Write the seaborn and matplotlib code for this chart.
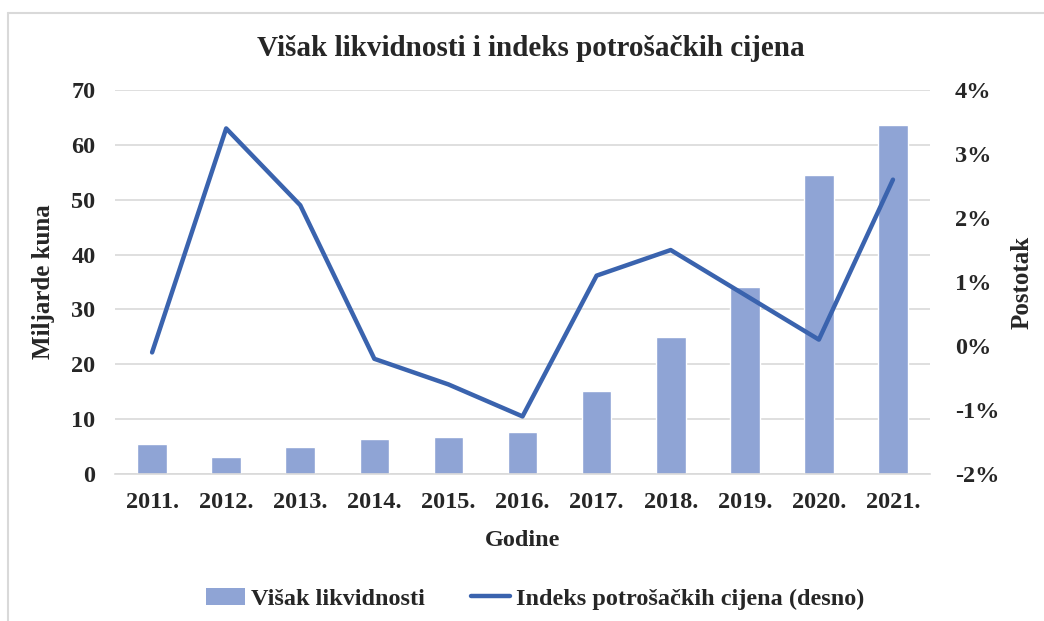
import matplotlib
matplotlib.use("Agg")
import matplotlib.pyplot as plt
import matplotlib.ticker as mticker
from matplotlib.lines import Line2D
from matplotlib.patches import Patch
import numpy as np
import pandas as pd
import seaborn as sns

years = ["2011.", "2012.", "2013.", "2014.", "2015.", "2016.", "2017.", "2018.", "2019.", "2020.", "2021."]
liquidity = [5.4, 3.1, 5.0, 6.4, 6.7, 7.6, 15.1, 24.9, 34.1, 54.6, 63.6]   # milijarde kuna
cpi = [-0.1, 3.4, 2.2, -0.2, -0.6, -1.1, 1.1, 1.5, 0.8, 0.1, 2.6]           # postotak

bar_color = "#8FA4D5"
line_color = "#3A63AE"
grid_color = "#D9D9D9"

sns.set_theme(style="white")
plt.rcParams["font.family"] = ["Liberation Serif", "DejaVu Serif"]
plt.rcParams["font.weight"] = "bold"

df = pd.DataFrame({"Godina": years, "Visak": liquidity, "CPI": cpi})

fig = plt.figure(figsize=(10.44, 6.21), dpi=100)
ax = fig.add_axes([0.1102, 0.2367, 0.7806, 0.6183])

sns.barplot(data=df, x="Godina", y="Visak", color=bar_color, width=0.4,
            saturation=1, ax=ax, zorder=2)
ax.set_ylim(0, 70)
ax.set_xlim(-0.5, len(years) - 0.5)
ax.yaxis.set_major_locator(mticker.MultipleLocator(10))
ax.yaxis.grid(True, color=grid_color, linewidth=1.2, zorder=0)
ax.set_axisbelow(True)
for s in ["left", "right", "top"]:
    ax.spines[s].set_visible(False)
ax.spines["bottom"].set_color(grid_color)
ax.spines["bottom"].set_linewidth(1.2)
ax.tick_params(axis="x", length=0, labelsize=17.5, pad=13)
ax.tick_params(axis="y", length=0, labelsize=17.5, pad=14)
for lbl in ax.get_xticklabels() + ax.get_yticklabels():
    lbl.set_fontweight("bold")
ax.set_xlabel("Godine", fontsize=17.5, fontweight="bold", labelpad=12)
ax.set_ylabel("Miljarde kuna", fontsize=18, fontweight="bold", labelpad=12)

ax2 = ax.twinx()
sns.lineplot(x=np.arange(len(years)), y=cpi, color=line_color, linewidth=3.2, ax=ax2)
ax2.set_ylim(-2, 4)
ax2.yaxis.set_major_locator(mticker.MultipleLocator(1))
ax2.yaxis.set_major_formatter(mticker.FuncFormatter(lambda v, p: f"{v:.0f}%"))
for s in ["left", "right", "top", "bottom"]:
    ax2.spines[s].set_visible(False)
ax2.tick_params(axis="y", length=0, labelsize=17.5, pad=18)
for lbl in ax2.get_yticklabels():
    lbl.set_fontweight("bold")
ax2.set_ylabel("Postotak", fontsize=18, fontweight="bold", labelpad=8)

fig.text(0.508, 0.922, "Višak likvidnosti i indeks potrošačkih cijena",
         ha="center", va="center", fontsize=21, fontweight="bold")

handles = [Patch(facecolor=bar_color, edgecolor="none"),
           Line2D([0], [0], color=line_color, linewidth=3.2)]
labels = ["Višak likvidnosti", "Indeks potrošačkih cijena (desno)"]
fig.legend(handles, labels, loc="center", bbox_to_anchor=(0.513, 0.036), ncol=2,
           frameon=False, handlelength=1.6, handletextpad=0.25,
           columnspacing=1.9, prop={"weight": "bold", "size": 17.5})

# outer frame of the chart area
fig.add_artist(Line2D([0.008, 0.008], [0.0, 0.979], color=grid_color, linewidth=1.5,
                      transform=fig.transFigure))
fig.add_artist(Line2D([0.008, 1.0], [0.979, 0.979], color=grid_color, linewidth=1.5,
                      transform=fig.transFigure))

fig.savefig("out.png", dpi=100, facecolor="white")
